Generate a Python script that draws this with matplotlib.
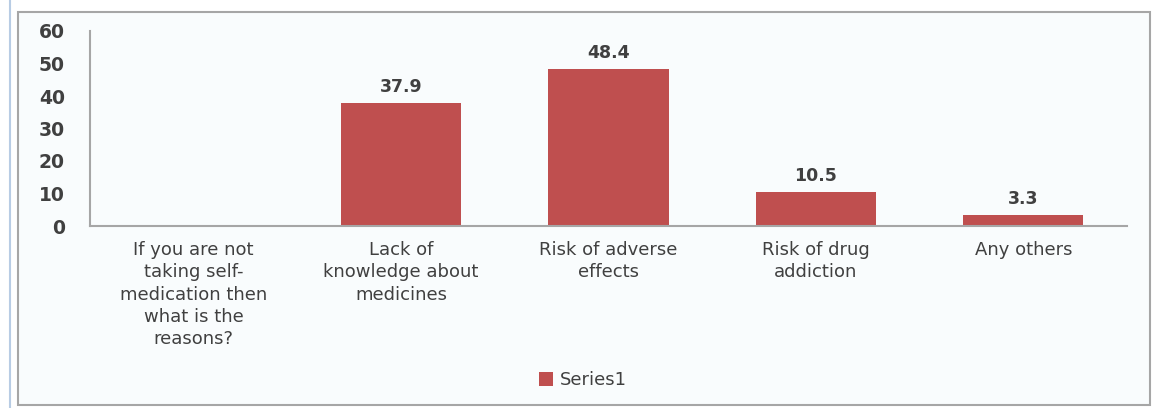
import matplotlib
matplotlib.use("Agg")
import matplotlib.pyplot as plt
from matplotlib.patches import Rectangle
from matplotlib.lines import Line2D

categories = ["If you are not\ntaking self-\nmedication then\nwhat is the\nreasons?",
              "Lack of\nknowledge about\nmedicines",
              "Risk of adverse\neffects",
              "Risk of drug\naddiction",
              "Any others"]
values = [None, 37.9, 48.4, 10.5, 3.3]
value_labels = ["", "37.9", "48.4", "10.5", "3.3"]
yticks = [0, 10, 20, 30, 40, 50, 60]
series_name = "Series1"

bar_color = "#BF4F4F"
text_color = "#404040"
bg = "#F9FCFD"

plt.rcParams['font.family'] = ['DejaVu Sans']

fig = plt.figure(figsize=(11.6, 4.08), dpi=100, facecolor="white")

# chart area box
fig.patches.append(Rectangle((18/1160, 1-405/408), (1150-18)/1160, (405-12)/408,
                             transform=fig.transFigure, facecolor=bg,
                             edgecolor="#A6A6A6", linewidth=1.5, zorder=-5))
fig.lines.append(Line2D([10/1160, 10/1160], [0, 1], transform=fig.transFigure,
                        color="#B8CCE4", linewidth=1.5, zorder=-5))

ax = fig.add_axes([90/1160, 1-226/408, (1127-90)/1160, (226-31)/408])
ax.set_facecolor("none")
ax.set_zorder(2)

x = list(range(len(categories)))
heights = [v if v is not None else 0 for v in values]
bars = ax.bar(x, heights, width=0.58, color=bar_color, zorder=2, label=series_name)
for xi, v, lab in zip(x, heights, value_labels):
    if lab:
        ax.annotate(lab, (xi, v), xytext=(0, 5), textcoords="offset points",
                    ha="center", va="bottom", fontsize=12.5, color=text_color,
                    fontweight="bold")

ax.set_xlim(-0.5, len(categories) - 0.5)
ax.set_ylim(0, 60)
ax.set_yticks(yticks)
ax.set_yticklabels([str(t) for t in yticks], fontsize=13.5, color=text_color, fontweight="bold")
ax.set_xticks(x)
ax.set_xticklabels(categories, fontsize=13, color=text_color, linespacing=1.3, va="top")
ax.tick_params(axis="y", length=0, pad=18)
ax.tick_params(axis="x", length=0, pad=11)

for s in ["top", "right"]:
    ax.spines[s].set_visible(False)
ax.spines["left"].set_color("#A6A6A6")
ax.spines["bottom"].set_color("#A6A6A6")
ax.spines["left"].set_linewidth(1.5)
ax.spines["bottom"].set_linewidth(1.5)

leg = fig.legend(handles=[bars], labels=[series_name], loc="center",
                 bbox_to_anchor=(583/1160, 1-380/408), frameon=False,
                 fontsize=13, handlelength=0.8, handleheight=0.8, handletextpad=0.4)
for t in leg.get_texts():
    t.set_color(text_color)

fig.savefig("out.png", dpi=100, facecolor="white")
